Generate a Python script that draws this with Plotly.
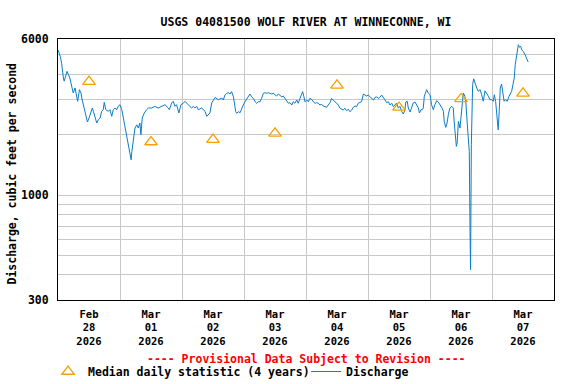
import pandas as pd
import plotly.graph_objects as go

# ---------------- data ----------------
start_time = "2026-02-28 00:00"

# hours since Feb 28 2026 00:00 and discharge (cfs)
discharge_hours = [
    0.0, 0.9, 1.4, 1.7, 2.1, 2.4, 3.0, 3.5, 4.0, 4.6, 5.3, 5.9, 6.6, 7.2, 7.6, 8.3, 8.9, 9.2, 9.8, 10.5,
    11.1, 11.4, 12.0, 12.8, 13.3, 13.7, 14.3, 15.0, 15.6, 16.3, 16.9, 17.5, 17.9, 18.5, 19.5, 20.1, 20.8, 21.4, 22.1, 22.7,
    23.3, 24.0, 24.7, 25.3, 25.9, 26.6, 27.0, 27.5, 27.9, 28.3, 28.6, 29.2, 29.8, 30.5, 31.1, 31.7, 32.1, 32.6, 33.4, 34.3,
    35.0, 36.3, 37.5, 38.8, 40.1, 41.4, 42.7, 43.1, 44.0, 44.6, 45.3, 45.9, 46.8, 47.6, 48.5, 49.2, 49.8, 50.4, 51.1, 51.7,
    52.4, 53.0, 53.7, 54.3, 55.6, 56.2, 56.9, 57.6, 58.2, 58.8, 59.5, 60.1, 60.8, 62.1, 63.4, 64.0, 64.6, 65.3, 65.9, 66.6,
    67.2, 67.9, 68.2, 68.8, 69.2, 69.8, 70.5, 71.1, 71.7, 72.4, 73.0, 73.7, 74.3, 75.0, 75.6, 76.3, 76.9, 77.5, 78.2, 78.8,
    79.5, 80.1, 80.8, 81.4, 82.1, 82.7, 83.3, 84.0, 84.6, 85.3, 85.9, 86.6, 87.2, 87.9, 88.5, 89.2, 89.8, 90.5, 91.1, 91.7,
    92.4, 93.0, 93.7, 94.3, 94.7, 95.2, 95.6, 96.3, 96.9, 97.5, 98.2, 98.8, 99.5, 100.1, 100.8, 101.4, 102.1, 102.7, 103.4, 104.0,
    104.6, 105.3, 105.9, 106.6, 107.2, 107.9, 108.5, 109.2, 109.8, 110.4, 111.1, 111.7, 112.4, 113.0, 113.7, 114.3, 115.0, 115.6, 116.2, 116.9,
    117.5, 118.2, 118.8, 119.5, 120.1, 120.8, 121.4, 122.1, 122.7, 123.4, 124.0, 124.6, 125.3, 125.9, 126.6, 127.2, 127.9, 128.5, 129.2, 129.8,
    130.5, 131.1, 131.7, 132.4, 133.0, 133.7, 134.3, 134.6, 135.2, 135.6, 136.3, 136.9, 137.5, 138.2, 138.8, 139.5, 139.9, 140.5, 141.0, 141.4,
    141.8, 142.3, 142.7, 143.3, 144.0, 144.6, 145.3, 145.9, 146.6, 147.2, 147.9, 148.5, 149.2, 149.5, 150.1, 150.6, 151.1, 151.7, 152.4, 153.0,
    153.4, 153.9, 154.2, 154.5, 155.0, 155.6, 156.0, 156.5, 156.9, 157.5, 157.9, 158.4, 158.8, 159.2, 159.5, 159.7, 160.0, 160.3, 160.5, 160.9,
    161.4, 162.1, 162.7, 163.4, 164.0, 164.6, 165.3, 165.9, 166.6, 167.2, 167.9, 168.5, 168.9, 169.4, 169.8, 170.4, 170.8, 171.2, 171.7, 172.3,
    172.7, 173.2, 173.9, 174.6, 175.1, 175.6, 176.1, 176.6, 177.0, 177.5, 178.2, 178.6, 179.1, 179.5, 180.1, 180.8, 181.4, 182.0,
]
discharge_cfs = [
    5300, 4900, 4540, 4140, 3834, 3700, 3980, 4140, 4000, 3834, 3490, 3229, 3419, 3110, 2935, 3355, 3229, 3047, 2823, 2617,
    2422, 2314, 2422, 2566, 2717, 2617, 2422, 2288, 2375, 2422, 2617, 2665, 2900, 2665, 2617, 2665, 2470, 2665, 2717, 2665,
    2770, 2823, 2665, 2422, 2240, 2000, 1926, 1783, 1621, 1500, 1652, 1926, 2160, 2240, 2160, 2288, 2000, 2422, 2566, 2665,
    2717, 2717, 2770, 2717, 2770, 2823, 2717, 2665, 2877, 2935, 2770, 2823, 2566, 2823, 2877, 2935, 2877, 2823, 2770, 2717,
    2770, 2717, 2770, 2665, 2717, 2665, 2617, 2470, 2520, 2566, 2877, 2990, 3070, 2990, 3047, 2979, 3154, 3217, 3240, 3192,
    3280, 3090, 2870, 2605, 2557, 2605, 2575, 2708, 2813, 2920, 3000, 3070, 3192, 3090, 3035, 2920, 2870, 2920, 2920, 3035,
    3217, 3240, 3217, 3240, 3217, 3192, 3217, 3154, 3118, 3192, 3154, 3090, 3118, 3035, 2979, 2870, 2890, 2813, 2920, 2870,
    2979, 2870, 3035, 3217, 3280, 3090, 2920, 2979, 2920, 3035, 3000, 2920, 2870, 2890, 2870, 2813, 2835, 2780, 2760, 2740,
    2813, 2890, 3035, 2955, 2920, 2870, 2813, 2708, 2678, 2656, 2708, 2636, 2678, 2605, 2656, 2740, 2780, 2760, 2870, 2890,
    2920, 3192, 3154, 3118, 3154, 3090, 3035, 2979, 3070, 3090, 3035, 3070, 3154, 3090, 2979, 2890, 2920, 2813, 2870, 2760,
    2823, 2877, 2717, 2770, 2617, 2537, 2665, 2911, 2935, 2717, 2596, 2770, 2877, 2911, 2823, 2717, 2566, 2665, 2665, 2717,
    3110, 3229, 3355, 3229, 3165, 2823, 2665, 2823, 2955, 2911, 2823, 2740, 2617, 2330, 2175, 2288, 2520, 2717, 2770, 2717,
    2288, 2000, 1750, 1818, 2330, 2160, 2422, 2935, 3229, 3110, 2877, 2288, 1818, 1652, 660, 425, 1783, 2770, 3550, 3800,
    3620, 3419, 3290, 3355, 3165, 2935, 3310, 3229, 3110, 2990, 2990, 2935, 3165, 2935, 2520, 2115, 2617, 3419, 3580, 3229,
    2935, 2990, 2935, 3110, 3229, 3290, 3550, 3834, 4480, 5010, 5620, 5460, 5520, 5300, 5200, 5010, 4840, 4606,
]

median_dates = [
    "2026-02-28 12:00", "2026-03-01 12:00", "2026-03-02 12:00", "2026-03-03 12:00",
    "2026-03-04 12:00", "2026-03-05 12:00", "2026-03-06 12:00", "2026-03-07 12:00",
]
median_cfs = [3680, 1840, 1890, 2030, 3525, 2735, 3015, 3215]

y_grid_values = [300, 400, 500, 600, 700, 800, 900, 1000, 2000, 3000, 4000, 5000, 6000]
y_tick_labels = ["300", "", "", "", "", "", "", "1000", "", "", "", "", "6000"]

x_range = ["2026-02-28 00:00", "2026-03-08 00:00"]

title_text = "USGS 04081500 WOLF RIVER AT WINNECONNE, WI"
y_title_text = "Discharge, cubic feet per second"
provisional_text = "---- Provisional Data Subject to Revision ----"

# ---------------- figure ----------------
times = pd.Timestamp(start_time) + pd.to_timedelta(discharge_hours, unit="h")

FONT = "DejaVu Sans Mono"
BLUE = "#0a7dc8"
ORANGE = "#f7a000"
PLOT_H = 261.0
PLOT_W = 496.5

fig = go.Figure()
fig.add_trace(go.Scatter(
    x=times, y=discharge_cfs, mode="lines", name="Discharge",
    line=dict(color=BLUE, width=1), legendrank=2,
))
fig.add_trace(go.Scatter(
    x=pd.to_datetime(median_dates), y=median_cfs, mode="markers",
    name="Median daily statistic (4 years)", legendrank=1,
    marker=dict(symbol="triangle-up-open", size=11, color=ORANGE, line=dict(width=1.3, color=ORANGE)),
))

fig.update_layout(
    width=576, height=384,
    margin=dict(l=58, r=22, t=39, b=84, autoexpand=False),
    paper_bgcolor="white", plot_bgcolor="white",
    font=dict(family=FONT, size=11.5, color="black", weight="bold"),
    title=dict(text=title_text, x=0.5, xref="paper", y=1 - 22 / 384, yanchor="middle",
               font=dict(family=FONT, size=11.5, color="black", weight="bold")),
    showlegend=True,
    legend=dict(orientation="h", x=-0.02, xanchor="left", y=-(357 - 300) / PLOT_H, yanchor="top",
                font=dict(family=FONT, size=11.5, color="black", weight="bold"),
                bgcolor="rgba(0,0,0,0)", entrywidth=213, entrywidthmode="pixels",
                itemclick=False),
)

fig.update_xaxes(
    type="date", range=x_range, dtick=86400000, tick0="2026-02-28",
    ticklabelmode="period", tickformat="%b<br>%d<br>%Y",
    showgrid=True, gridcolor="#c8c8c8", gridwidth=1,
    showline=True, linecolor="black", linewidth=1, mirror=True,
    ticks="", ticklabelstandoff=4, zeroline=False, automargin=False,
    tickfont=dict(family=FONT, size=10.5, color="black", weight="bold"),
)
fig.update_yaxes(
    type="log", range=[2.4771, 3.7782],
    tickmode="array", tickvals=y_grid_values, ticktext=y_tick_labels,
    showgrid=True, gridcolor="#c8c8c8", gridwidth=1,
    showline=True, linecolor="black", linewidth=1, mirror=True,
    ticks="", ticklabelstandoff=6, zeroline=False, automargin=False,
    tickfont=dict(family=FONT, size=11.5, color="black", weight="bold"),
)

fig.add_annotation(
    text=y_title_text, textangle=-90, xref="paper", yref="paper",
    x=(11.5 - 58) / PLOT_W, y=(300 - 174) / PLOT_H, xanchor="center", yanchor="middle",
    showarrow=False, font=dict(family=FONT, size=11.5, color="black", weight="bold"),
)
fig.add_annotation(
    text=provisional_text, xref="paper", yref="paper",
    x=0.5, y=(300 - 358.5) / PLOT_H, xanchor="center", yanchor="middle",
    showarrow=False, font=dict(family=FONT, size=11.5, color="#ff0000", weight="bold"),
)

fig.write_html("out.html", config={"displayModeBar": False},
               post_script="document.body.style.margin='0px';")
